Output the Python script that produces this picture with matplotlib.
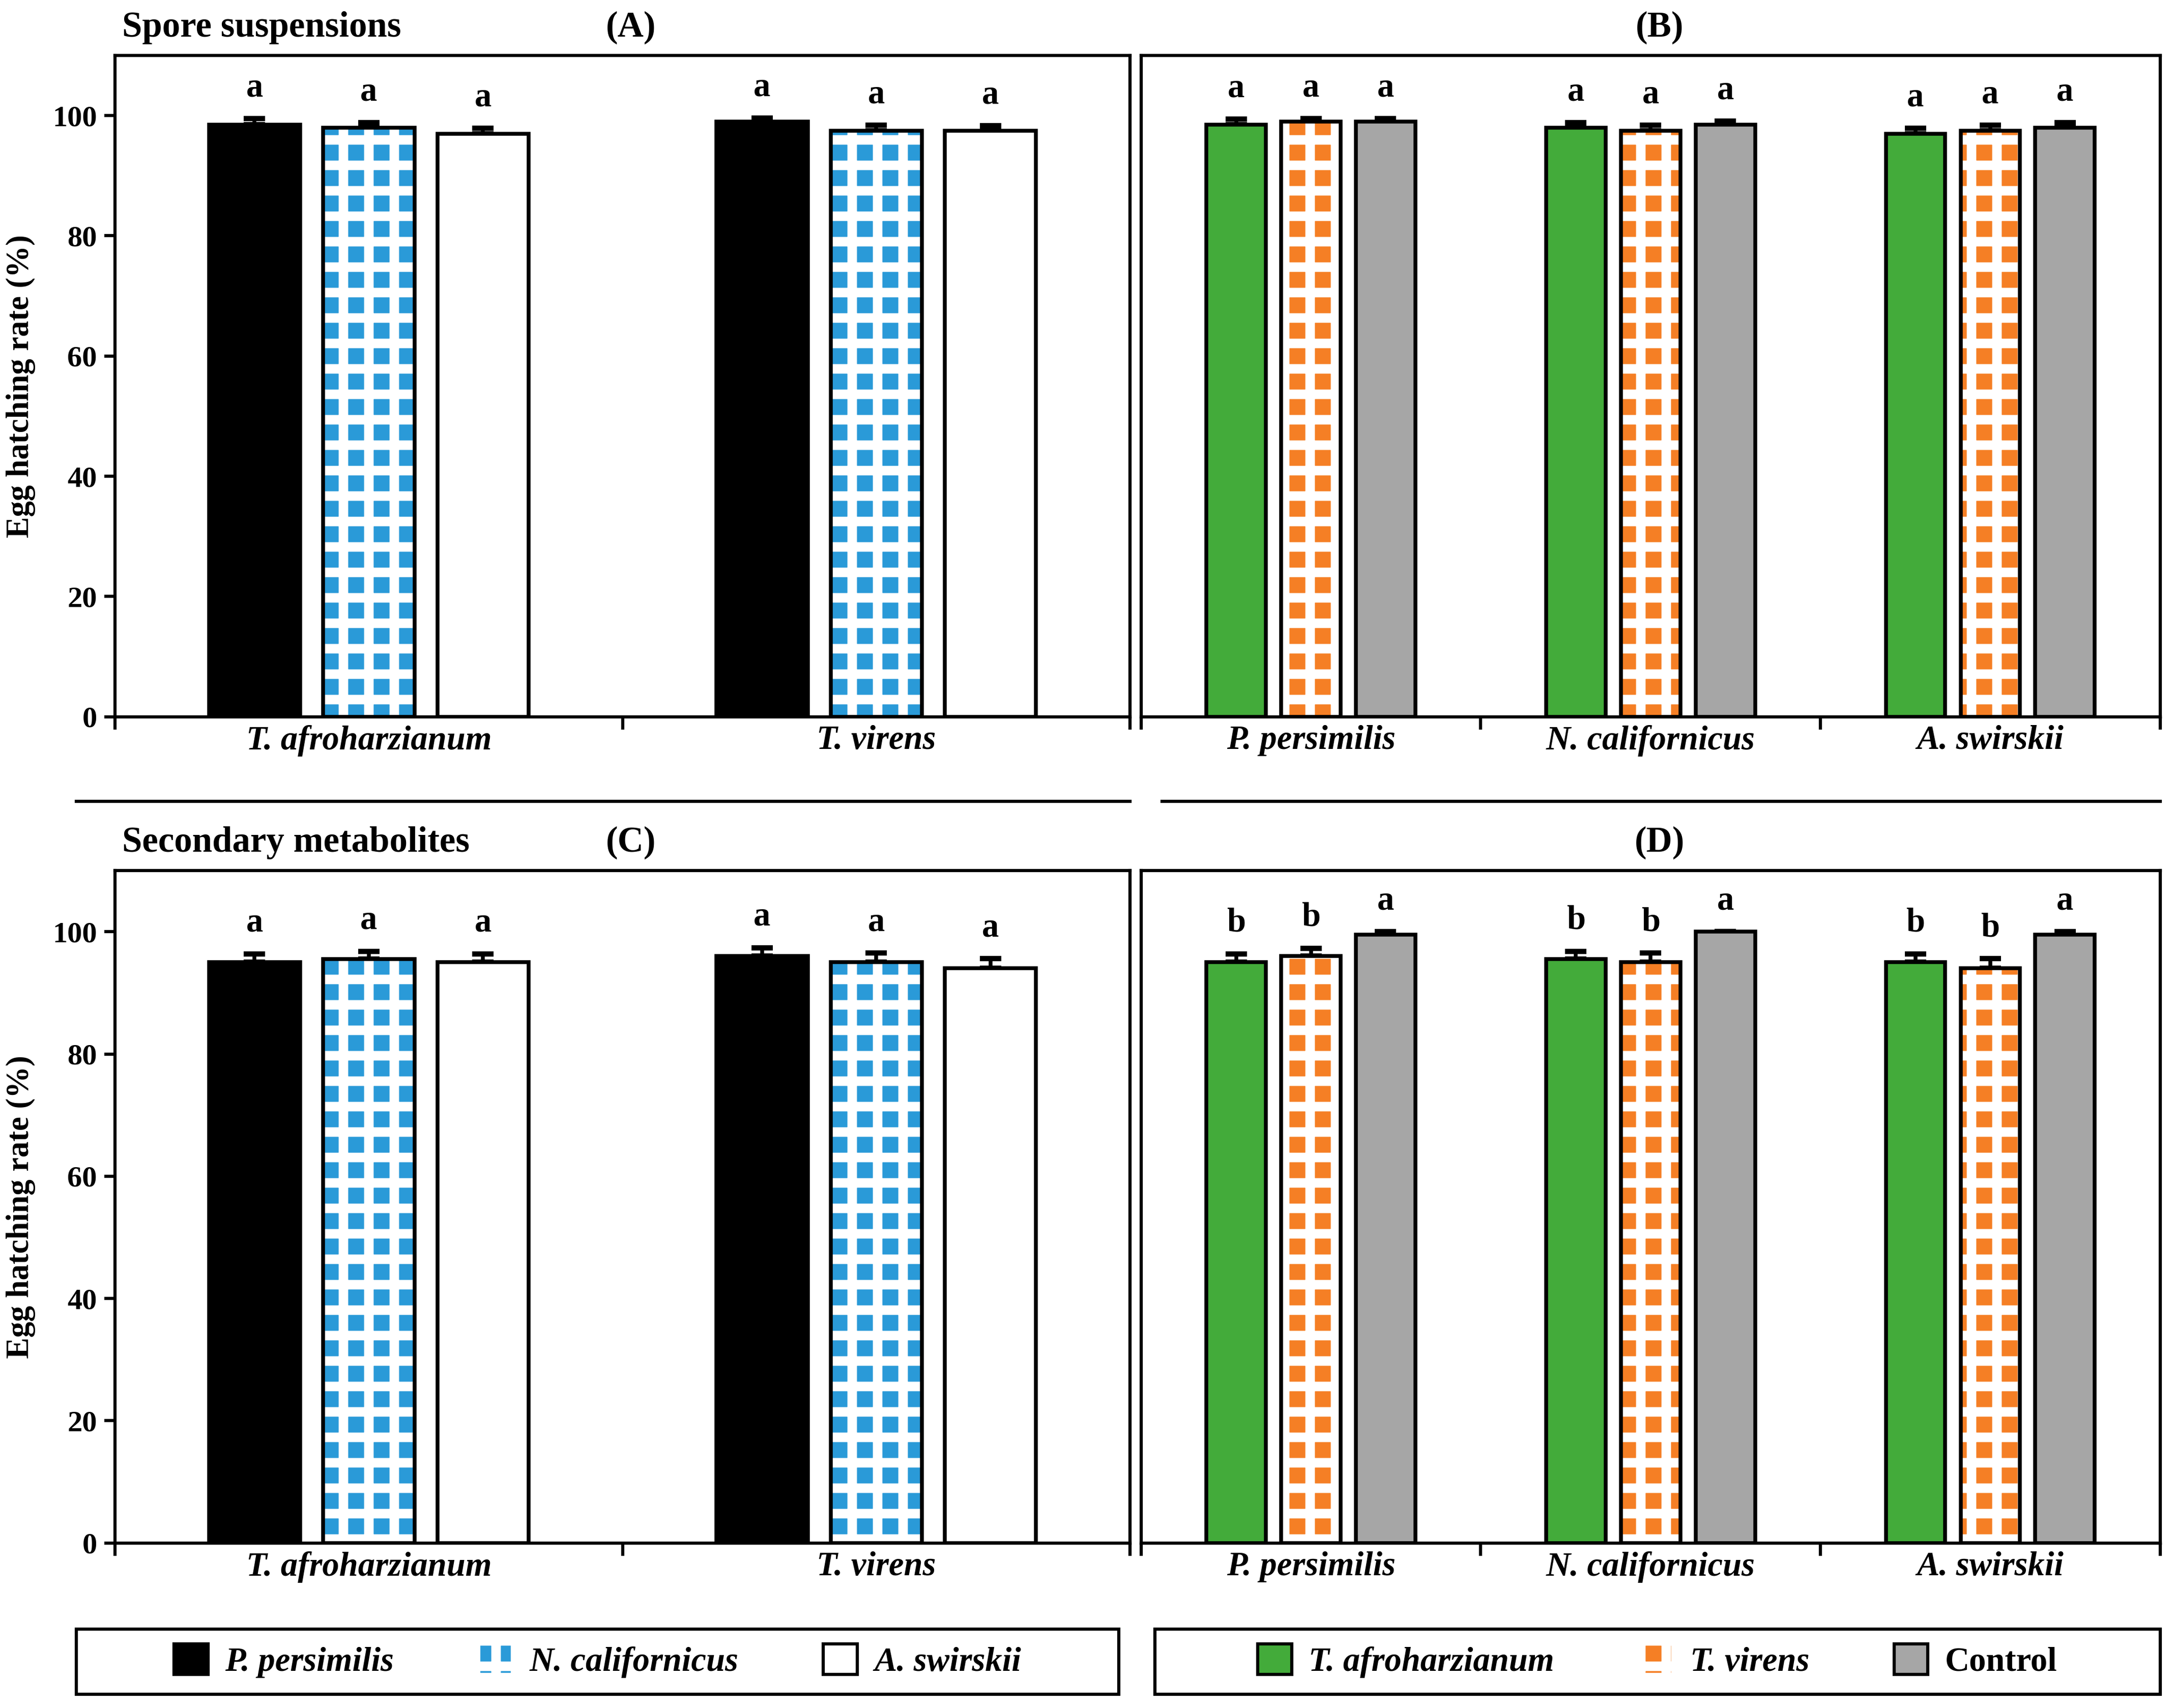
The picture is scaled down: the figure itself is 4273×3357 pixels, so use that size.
import matplotlib
matplotlib.use("Agg")
import matplotlib.pyplot as plt
import numpy as np
from matplotlib.patches import Patch
from matplotlib.lines import Line2D

plt.rcParams['font.family'] = ['Liberation Serif', 'DejaVu Serif']
plt.rcParams['font.weight'] = 'bold'
plt.rcParams['hatch.linewidth'] = 4.5

W, H = 1568, 1232
def fx(x): return x / W
def fy(y): return 1 - y / H

fungi = ["T. afroharzianum", "T. virens"]
mites = ["P. persimilis", "N. californicus", "A. swirskii"]
fungi_legend = ["T. afroharzianum", "T. virens", "Control"]

# Panel A: spore suspensions, by fungus, series = mites
A_vals = [[98.5, 99.0], [98.0, 97.5], [97.0, 97.5]]
A_err = [[1.0, 0.6], [0.8, 0.9], [0.9, 0.8]]
A_let = [["a", "a"], ["a", "a"], ["a", "a"]]
# Panel B: by mite, series = fungi/control
B_vals = [[98.5, 98.0, 97.0], [99.0, 97.5, 97.5], [99.0, 98.5, 98.0]]
B_err = [[0.9, 0.8, 0.9], [0.5, 0.9, 0.9], [0.5, 0.6, 0.8]]
B_let = [["a"] * 3, ["a"] * 3, ["a"] * 3]
# Panel C: secondary metabolites
C_vals = [[95.0, 96.0], [95.5, 95.0], [95.0, 94.0]]
C_err = [[1.4, 1.4], [1.3, 1.5], [1.4, 1.6]]
C_let = [["a", "a"], ["a", "a"], ["a", "a"]]
# Panel D
D_vals = [[95.0, 95.5, 95.0], [96.0, 95.0, 94.0], [99.5, 100.0, 99.5]]
D_err = [[1.4, 1.3, 1.4], [1.3, 1.5, 1.6], [0.5, 0.0, 0.5]]
D_let = [["b", "b", "b"], ["b", "b", "b"], ["a", "a", "a"]]

mite_styles = [dict(fc="black", hatch=None), dict(fc="#2a9ad8", hatch="+"), dict(fc="white", hatch=None)]
fungi_styles = [dict(fc="#43ab3a", hatch=None), dict(fc="#f57f25", hatch="+"), dict(fc="#a6a6a6", hatch=None)]

fig = plt.figure(figsize=(4273 / 300, 3357 / 300), dpi=300)

def draw_panel(rect, cats, vals, errs, lets, styles, offset, width):
    ax = fig.add_axes(rect)
    x = np.arange(len(cats))
    for i, (v, e, l, st) in enumerate(zip(vals, errs, lets, styles)):
        xs = x + (i - 1) * offset
        if st["hatch"]:
            ax.bar(xs, v, width, color=st["fc"], hatch=st["hatch"], edgecolor="white", linewidth=0, zorder=2)
            ax.bar(xs, v, width, fill=False, edgecolor="black", linewidth=1.8, zorder=3)
        else:
            ax.bar(xs, v, width, color=st["fc"], edgecolor="black", linewidth=1.8, zorder=3)
        ax.errorbar(xs, np.array(v), yerr=[np.zeros(len(v)), np.array(e)], fmt="none",
                    ecolor="black", elinewidth=1.8, capsize=5, capthick=2.5, zorder=1)
        for xi, vi, ei, li in zip(xs, v, e, l):
            ax.text(xi, vi + ei + 2.5, li, ha="center", va="bottom", fontsize=16, fontweight="bold")
    ax.set_ylim(0, 110)
    ax.set_xlim(-0.5, len(cats) - 0.5)
    ax.set_yticks([0, 20, 40, 60, 80, 100])
    ax.tick_params(axis="y", labelsize=14, width=1.5, length=5)
    ax.set_xticks(x)
    ax.set_xticklabels(cats, fontsize=16, fontstyle="italic", fontweight="bold")
    ax.tick_params(axis="x", length=0, pad=4)
    ax.set_xticks(np.arange(len(cats) + 1) - 0.5, minor=True)
    ax.tick_params(axis="x", which="minor", length=6, width=1.5)
    for s in ax.spines.values():
        s.set_linewidth(1.5)
    for lab in ax.get_yticklabels():
        lab.set_fontweight("bold")
    return ax

axA = draw_panel([fx(83), fy(517), fx(815) - fx(83), fy(40) - fy(517)], fungi, A_vals, A_err, A_let, mite_styles, 0.225, 0.18)
axB = draw_panel([fx(823), fy(517), fx(1558) - fx(823), fy(40) - fy(517)], mites, B_vals, B_err, B_let, fungi_styles, 0.22, 0.175)
axC = draw_panel([fx(83), fy(1113), fx(815) - fx(83), fy(628) - fy(1113)], fungi, C_vals, C_err, C_let, mite_styles, 0.225, 0.18)
axD = draw_panel([fx(823), fy(1113), fx(1558) - fx(823), fy(628) - fy(1113)], mites, D_vals, D_err, D_let, fungi_styles, 0.22, 0.175)
for ax in (axB, axD):
    ax.set_yticklabels([])
    ax.tick_params(axis="y", length=0)
for ax in (axA, axC):
    ax.set_ylabel("Egg hatching rate (%)", fontsize=15, fontweight="bold", labelpad=8)

fig.text(fx(88), fy(20), "Spore suspensions", fontsize=17, fontweight="bold", va="center")
fig.text(fx(455), fy(20), "(A)", fontsize=17, fontweight="bold", va="center", ha="center")
fig.text(fx(1197), fy(20), "(B)", fontsize=17, fontweight="bold", va="center", ha="center")
fig.text(fx(88), fy(608), "Secondary metabolites", fontsize=17, fontweight="bold", va="center")
fig.text(fx(455), fy(608), "(C)", fontsize=17, fontweight="bold", va="center", ha="center")
fig.text(fx(1197), fy(608), "(D)", fontsize=17, fontweight="bold", va="center", ha="center")

fig.add_artist(Line2D([fx(55), fx(815)], [fy(578), fy(578)], color="black", lw=1.5))
fig.add_artist(Line2D([fx(838), fx(1558)], [fy(578), fy(578)], color="black", lw=1.5))

def make_handles(styles, labels):
    hs = []
    for st, lb in zip(styles, labels):
        hs.append(Patch(facecolor=st["fc"], edgecolor="black" if not st["hatch"] else "white",
                        hatch=st["hatch"], linewidth=1.5, label=lb))
    return hs

for styles, labels, x0, x1 in ((mite_styles, mites, 55, 807), (fungi_styles, fungi_legend, 833, 1558)):
    leg = fig.legend(handles=make_handles(styles, labels), loc="center", ncol=3,
                     bbox_to_anchor=(fx((x0 + x1) / 2), fy(1198)),
                     frameon=False, columnspacing=2.5, handletextpad=0.5,
                     prop=dict(family="Liberation Serif", style="italic", weight="bold", size=16),
                     handlelength=1.0, handleheight=1.0)
    if labels is fungi_legend:
        leg.get_texts()[2].set_fontstyle("normal")
    fig.add_artist(plt.Rectangle((fx(x0), fy(1222)), fx(x1) - fx(x0), fy(1175) - fy(1222),
                                 transform=fig.transFigure, fill=False, edgecolor="black", lw=1.5))

fig.savefig("out.png", dpi=300)
